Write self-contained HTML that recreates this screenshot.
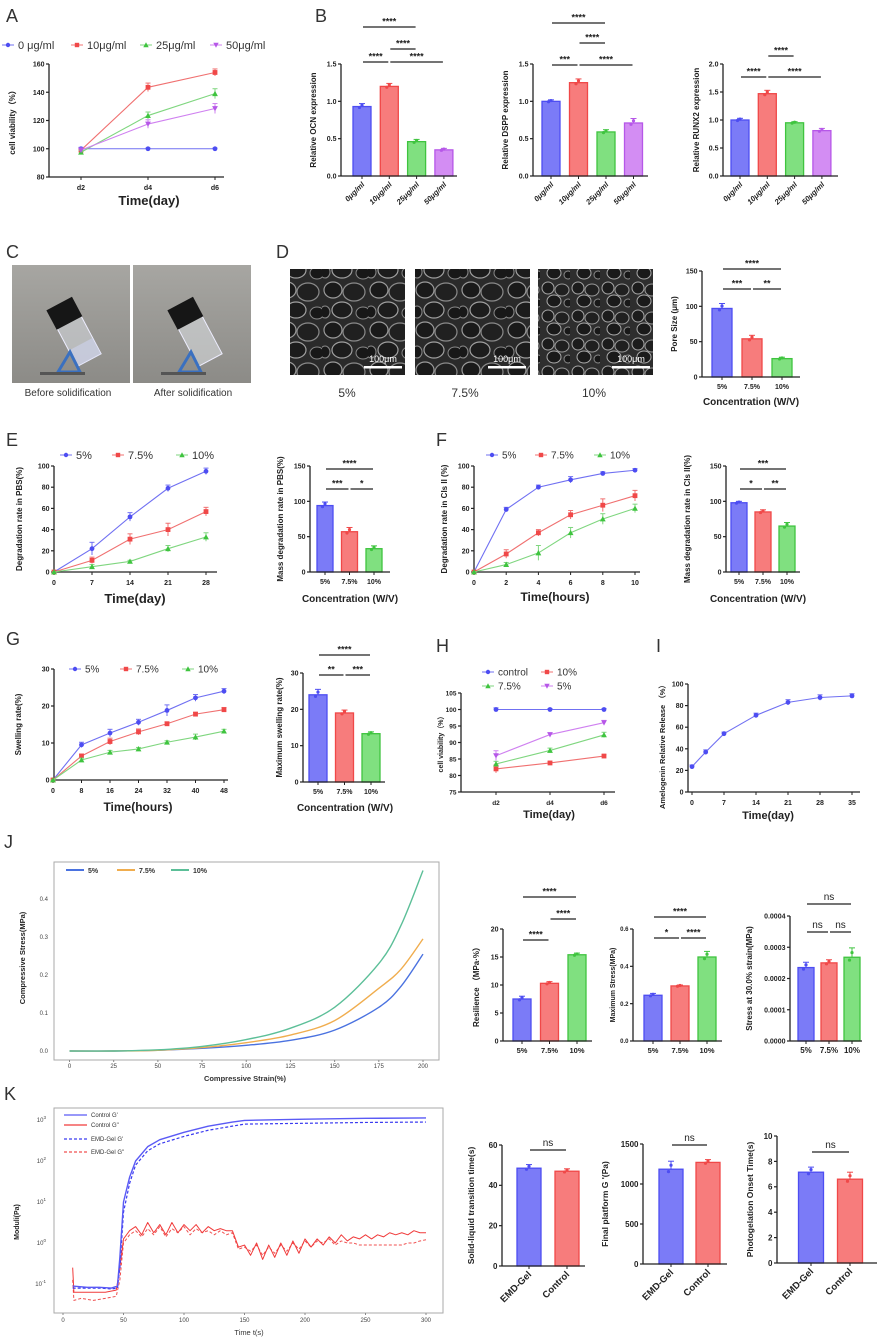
<!DOCTYPE html>
<html><head><meta charset="utf-8">
<style>
body{margin:0;background:#fff;}
svg{display:block;font-family:"Liberation Sans",sans-serif;}
</style></head>
<body>
<svg id="fig" width="879" height="1340" viewBox="0 0 879 1340">
<defs>
<pattern id="sem" width="46" height="40" patternUnits="userSpaceOnUse">
<rect width="46" height="40" fill="#2a2a2a"/>
<ellipse cx="11" cy="10" rx="9" ry="8" fill="#1a1a1a" stroke="#9a9a9a" stroke-width="1.2"/>
<ellipse cx="32" cy="12" rx="11" ry="9" fill="#202020" stroke="#8a8a8a" stroke-width="1.2"/>
<ellipse cx="20" cy="30" rx="10" ry="8" fill="#1c1c1c" stroke="#a0a0a0" stroke-width="1.2"/>
<ellipse cx="41" cy="33" rx="7" ry="6" fill="#181818" stroke="#888" stroke-width="1"/>
<ellipse cx="3" cy="32" rx="5" ry="6" fill="#181818" stroke="#888" stroke-width="1"/>
</pattern>
<pattern id="sem2" width="30" height="28" patternUnits="userSpaceOnUse">
<rect width="30" height="28" fill="#2e2e2e"/>
<ellipse cx="8" cy="8" rx="6" ry="6" fill="#1c1c1c" stroke="#a5a5a5" stroke-width="1"/>
<ellipse cx="22" cy="10" rx="7" ry="6" fill="#202020" stroke="#999" stroke-width="1"/>
<ellipse cx="14" cy="21" rx="7" ry="6" fill="#1a1a1a" stroke="#aaa" stroke-width="1"/>
<ellipse cx="28" cy="23" rx="4" ry="4" fill="#181818" stroke="#888" stroke-width="1"/>
</pattern>
<linearGradient id="photo" x1="0" y1="0" x2="0" y2="1">
<stop offset="0" stop-color="#a7a6a2"/><stop offset="1" stop-color="#8c8b87"/>
</linearGradient>
</defs>

<text x="6" y="22" font-size="18" fill="#333">A</text>
<text x="315" y="22" font-size="18" fill="#333">B</text>
<text x="6" y="258" font-size="18" fill="#333">C</text>
<text x="276" y="258" font-size="18" fill="#333">D</text>
<text x="6" y="446" font-size="18" fill="#333">E</text>
<text x="436" y="446" font-size="18" fill="#333">F</text>
<text x="6" y="645" font-size="18" fill="#333">G</text>
<text x="436" y="652" font-size="18" fill="#333">H</text>
<text x="656" y="652" font-size="18" fill="#333">I</text>
<text x="4" y="848" font-size="18" fill="#333">J</text>
<text x="4" y="1100" font-size="18" fill="#333">K</text>

<g>
<rect x="12" y="265" width="118" height="118" fill="url(#photo)"/>
<g transform="translate(70,325) rotate(-28)">
<rect x="-13" y="-4" width="27" height="44" fill="#d9dde2" fill-opacity="0.55" stroke="#eef" stroke-width="1"/>
<rect x="-13" y="22" width="27" height="18" fill="#cfd3ee" fill-opacity="0.6"/>
<rect x="-14" y="-24" width="29" height="22" fill="#161616"/>
</g>
<path d="M58 372 L70 352 L80 372 Z" fill="none" stroke="#3a70c0" stroke-width="3"/>
<rect x="40" y="372" width="45" height="3" fill="#555"/>
</g>
<g>
<rect x="133" y="265" width="118" height="118" fill="url(#photo)"/>
<g transform="translate(191,325) rotate(-28)">
<rect x="-13" y="-4" width="27" height="44" fill="#dfe2e6" fill-opacity="0.55" stroke="#eef" stroke-width="1"/>
<rect x="-14" y="-24" width="29" height="22" fill="#161616"/>
</g>
<path d="M179 372 L191 352 L201 372 Z" fill="none" stroke="#3a70c0" stroke-width="3"/>
<rect x="161" y="372" width="45" height="3" fill="#555"/>
</g>
<text x="68" y="396" font-size="10" text-anchor="middle" fill="#333">Before solidification</text>
<text x="193" y="396" font-size="10" text-anchor="middle" fill="#333">After solidification</text>

<g>
<rect x="290" y="269" width="115" height="106" fill="url(#sem)"/>
<text x="383" y="362" font-size="9" fill="#fff" text-anchor="middle">100μm</text>
<rect x="364" y="366" width="38" height="2.5" fill="#fff"/>
</g>
<g>
<rect x="415" y="269" width="115" height="106" fill="url(#sem)"/>
<text x="507" y="362" font-size="9" fill="#fff" text-anchor="middle">100μm</text>
<rect x="488" y="366" width="38" height="2.5" fill="#fff"/>
</g>
<g>
<rect x="538" y="269" width="115" height="106" fill="url(#sem2)"/>
<text x="631" y="362" font-size="9" fill="#fff" text-anchor="middle">100μm</text>
<rect x="612" y="366" width="38" height="2.5" fill="#fff"/>
</g>
<text x="347" y="397" font-size="12" text-anchor="middle" fill="#333">5%</text>
<text x="465" y="397" font-size="12" text-anchor="middle" fill="#333">7.5%</text>
<text x="594" y="397" font-size="12" text-anchor="middle" fill="#333">10%</text>
</svg>

<script>
const aCats=['d2','d4','d6'];
const a0=[100,100,100];
const a10=[99,143.5,154];
const a25=[97.5,123.5,139];
const a50=[99,117.5,128.5];
const a0e=[1,0.5,0.5];
const a10e=[1.5,3,2.5];
const a25e=[1.5,2.5,3.5];
const a50e=[1.5,3,3.5];

const bCats=['0μg/ml','10μg/ml','25μg/ml','50μg/ml'];
const ocn=[0.93,1.2,0.46,0.35];
const ocnErr=[0.04,0.04,0.03,0.02];
const dspp=[1.0,1.25,0.59,0.71];
const dsppErr=[0.02,0.05,0.03,0.06];
const runx2=[1.0,1.47,0.95,0.81];
const runx2Err=[0.03,0.06,0.02,0.04];

const concCats=['5%','7.5%','10%'];
const poreSize=[97,54,26];
const poreErr=[7,5,2];

const eDays=[0,7,14,21,28];
const e5=[0,22,52,79,95];
const e75=[0,11,31,40,57];
const e10=[0,5,10,22,33];
const eMass=[94,57,33];
const eMassErr=[5,6,4];

const fHours=[0,2,4,6,8,10];
const f5=[0,59,80,87,93,96];
const f75=[0,17,37,54,63,72];
const f10=[0,7,18,37,50,60];
const fMass=[98,85,65];
const fMassErr=[2,3,5];

const gHours=[0,8,16,24,32,40,48];
const g5=[0,9.5,12.7,15.6,18.8,22.2,24];
const g75=[0,6.5,10.4,13,15.2,17.8,19];
const g10=[0,5.4,7.5,8.4,10.2,11.6,13.2];
const gMax=[24,19,13.3];
const gMaxErr=[1.5,0.8,0.5];

const hCats=['d2','d4','d6'];
const hCtrl=[100,100,100];
const h10=[82,83.8,85.9];
const h75=[83.5,87.6,92.3];
const h5=[86,92.4,96];

const iDays=[0,3,7,14,21,28,35];
const iRel=[23.5,37,54,71,83,87.5,89];

const jStrain=[0,25,50,75,100,125,150,175,187.5,200];
const j5=[0,0,0.002,0.007,0.015,0.028,0.055,0.115,0.17,0.255];
const j75=[0,0,0.002,0.009,0.022,0.042,0.08,0.165,0.215,0.295];
const j10=[0,0,0.003,0.012,0.03,0.06,0.115,0.23,0.33,0.475];
const resil=[7.5,10.3,15.4];
const resilErr=[0.5,0.3,0.3];
const maxStress=[0.245,0.295,0.45];
const maxStressErr=[0.01,0.005,0.03];
const stress30=[0.000235,0.00025,0.000268];
const stress30Err=[0.000017,0.00001,0.00003];

const kTime1=[8,20,30,40,45,47,50,55,60,70,80,100,120,140,150,200,250,300];
const ctrlG1=[-1.05,-1.08,-1.08,-1.1,-1.05,-0.35,1.0,1.6,2.0,2.35,2.52,2.7,2.85,2.95,2.99,3.02,3.04,3.05];
const emdG1=[-1.1,-1.1,-1.1,-1.12,-1.1,-0.6,0.75,1.45,1.9,2.25,2.42,2.6,2.75,2.85,2.9,2.92,2.94,2.95];
const kTime2=[8,9,15,25,35,44,47,50,55,60,65,70,75,80,85,90,95,100,105,110,115,120,125,130,135,140,145,150,155,160,165,170,175,180,185,190,195,200,205,210,215,220,225,230,235,240,245,250,255,260,265,270,275,280,285,290,295,300];
const ctrlG2=[-0.6,-1.2,-1.2,-1.2,-1.2,-1.15,-0.6,0.1,0.3,0.4,0.2,0.5,0.25,0.45,0.2,0.5,0.25,0.45,0.3,0.45,0.25,0.4,0.3,0.35,0.3,0.3,-0.1,-0.05,-0.3,0.0,-0.4,-0.05,-0.35,0.0,-0.3,0.05,-0.25,0.1,-0.1,0.1,-0.05,0.15,0.0,0.2,0.05,0.15,0.1,0.2,0.1,0.2,0.15,0.25,0.2,0.25,0.2,0.3,0.25,0.25];
const emdG2=[-0.9,-1.4,-1.35,-1.4,-1.35,-1.3,-0.9,0.0,0.2,0.3,0.15,0.35,0.2,0.4,0.15,0.35,0.25,0.4,0.2,0.35,0.25,0.3,0.2,0.3,0.2,0.25,-0.15,-0.1,-0.2,-0.05,-0.3,-0.1,-0.25,-0.05,-0.2,0.0,-0.15,0.05,-0.1,0.05,0.0,0.1,-0.05,0.05,0.0,0.0,-0.05,-0.05,-0.05,-0.05,-0.05,-0.05,-0.05,-0.05,0.0,0.0,0.05,0.08];

const kCats=['EMD-Gel','Control'];
const solidTime=[48.5,47];
const solidErr=[1.8,1.2];
const finalG=[1185,1270];
const finalGErr=[100,35];
const photoTime=[7.15,6.6];
const photoErr=[0.4,0.55];

const NS='http://www.w3.org/2000/svg';
const svg=document.getElementById('fig');
function el(tag,attrs,name,parent,text){
  const e=document.createElementNS(NS,tag);
  for(const k in attrs) e.setAttribute(k,attrs[k]);
  
  
  if(text!==undefined) e.textContent=text;
  (parent||svg).appendChild(e);
  return e;
}
const COL={
  blue:{f:'#7b7bf7',s:'#4d4df2',l:'#7070f2'},
  red:{f:'#f77c7c',s:'#f04848',l:'#f07070'},
  green:{f:'#80e080',s:'#3fc43f',l:'#7fd67f'},
  purple:{f:'#d38df3',s:'#b657e8',l:'#cf80f0'}
};
const C3=['blue','red','green'];
const C4=['blue','red','green','purple'];

function yAxis(g,x,sy,ticks,labels,fs){
  el('line',{x1:x,y1:sy(ticks[0]),x2:x,y2:sy(ticks[ticks.length-1]),stroke:'#222','stroke-width':1.3},'y-axis-line',g);
  ticks.forEach((t,i)=>{
    el('line',{x1:x-3,y1:sy(t),x2:x,y2:sy(t),stroke:'#222','stroke-width':1.2},'y-tick',g);
    el('text',{x:x-4.5,y:sy(t)+fs*0.36,'text-anchor':'end','font-size':fs,'font-weight':'bold',fill:'#222'},'y-tick-label',g,labels[i]);
  });
}
function vlabel(g,x,y,txt,fs,name){
  el('text',{x:0,y:0,transform:`translate(${x},${y}) rotate(-90)`,'text-anchor':'middle','font-size':fs,'font-weight':'bold',fill:'#222'},name,g,txt);
}

function barChart(c){
  const g=el('g',{},c.name);
  const lo=c.ticks[0], hi=c.ticks[c.ticks.length-1];
  const sy=v=>c.y0-(v-lo)/(hi-lo)*(c.y0-c.yTop);
  const sx=i=>c.first+i*c.step;
  c.values.forEach((v,i)=>{
    const col=COL[c.colors[i]]; const x=sx(i); const e=c.errs[i];
    el('rect',{x:x-c.w/2,y:sy(v),width:c.w,height:c.y0-sy(v),fill:col.f,stroke:col.s,'stroke-width':1.3},'bar-'+c.cats[i],g);
    el('line',{x1:x,y1:sy(v+e),x2:x,y2:sy(v),stroke:col.s,'stroke-width':1},'error-bar',g);
    el('line',{x1:x-3,y1:sy(v+e),x2:x+3,y2:sy(v+e),stroke:col.s,'stroke-width':1},'error-cap',g);
    el('circle',{cx:x,cy:sy(v+e*0.5),r:1.6,fill:col.s},'data-point',g);
    el('circle',{cx:x-2.5,cy:sy(v-e*0.3),r:1.6,fill:col.s},'data-point',g);
  });
  yAxis(g,c.x0,sy,c.ticks,c.tickLabels,c.fs||7);
  el('line',{x1:c.x0,y1:c.y0,x2:c.xEnd,y2:c.y0,stroke:'#222','stroke-width':1.3},'x-axis-line',g);
  c.values.forEach((v,i)=>{
    const x=sx(i);
    el('line',{x1:x,y1:c.y0,x2:x,y2:c.y0+3,stroke:'#222'},'x-tick',g);
    if(c.rot){
      el('text',{x:0,y:0,transform:`translate(${x+3},${c.y0+9}) rotate(-45)`,'text-anchor':'end','font-size':c.catFs||8,'font-weight':'bold','font-style':c.italic?'italic':'normal',fill:'#222'},'x-tick-label',g,c.cats[i]);
    } else {
      el('text',{x:x,y:c.y0+12,'text-anchor':'middle','font-size':c.catFs||7,'font-weight':'bold',fill:'#222'},'x-tick-label',g,c.cats[i]);
    }
  });
  vlabel(g,c.ylx,(c.y0+c.yTop)/2,c.ylabel,c.ylFs||8,'y-axis-title');
  if(c.xlabel) el('text',{x:c.xlx,y:c.xly,'text-anchor':'middle','font-size':10,'font-weight':'bold',fill:'#222','font-family':'"Liberation Sans Narrow","Liberation Sans",sans-serif'},'x-axis-title',g,c.xlabel);
  c.brackets.forEach(b=>{
    const x1=sx(b[0])+1, x2=sx(b[1])-1;
    el('line',{x1:x1,y1:b[2],x2:x2,y2:b[2],stroke:'#222','stroke-width':1.3},'significance-bracket',g);
    el('text',{x:(x1+x2)/2,y:b[2]-(b[3]==='ns'?4:2.5),'text-anchor':'middle','font-size':b[3]==='ns'?10:9,'font-weight':b[3]==='ns'?'normal':'bold',fill:'#222'},'significance-label',g,b[3]);
  });
  return g;
}

function marker(g,type,x,y,col,r){
  r=r||2.4;
  if(type==='circle') el('circle',{cx:x,cy:y,r:r,fill:col},'marker',g);
  else if(type==='square') el('rect',{x:x-r,y:y-r,width:2*r,height:2*r,fill:col},'marker',g);
  else if(type==='up') el('path',{d:`M${x} ${y-r-0.5} L${x+r+0.5} ${y+r} L${x-r-0.5} ${y+r} Z`,fill:col},'marker',g);
  else el('path',{d:`M${x} ${y+r+0.5} L${x+r+0.5} ${y-r} L${x-r-0.5} ${y-r} Z`,fill:col},'marker',g);
}

function lineChart(c){
  const g=el('g',{},c.name);
  const lo=c.vticks[0], hi=c.vticks[c.vticks.length-1];
  const sy=v=>c.y0-(v-lo)/(hi-lo)*(c.y0-c.yTop);
  const sx=v=>c.xm[2]+(v-c.xm[0])/(c.xm[1]-c.xm[0])*(c.xm[3]-c.xm[2]);
  yAxis(g,c.ax0,sy,c.vticks,c.vlabels,c.fs||7);
  el('line',{x1:c.ax0,y1:c.y0,x2:c.ax1,y2:c.y0,stroke:'#222','stroke-width':1.3},'x-axis-line',g);
  c.xticks.forEach((t,i)=>{
    el('line',{x1:sx(t),y1:c.y0,x2:sx(t),y2:c.y0+3,stroke:'#222'},'x-tick',g);
    el('text',{x:sx(t),y:c.y0+13,'text-anchor':'middle','font-size':c.fs||7,'font-weight':'bold',fill:'#222'},'x-tick-label',g,c.xlabels[i]);
  });
  c.series.forEach(s=>{
    const col=COL[s.color].l;
    const pts=s.x.map((xv,i)=>sx(xv)+','+sy(s.y[i])).join(' ');
    el('polyline',{points:pts,fill:'none',stroke:col,'stroke-width':1.1},'series-line-'+s.name,g);
    s.x.forEach((xv,i)=>{
      if(s.err){
        const e=s.err[i];
        el('line',{x1:sx(xv),y1:sy(s.y[i]-e),x2:sx(xv),y2:sy(s.y[i]+e),stroke:col},'error-bar',g);
        el('line',{x1:sx(xv)-2.5,y1:sy(s.y[i]+e),x2:sx(xv)+2.5,y2:sy(s.y[i]+e),stroke:col},'error-cap',g);
      }
      marker(g,s.marker,sx(xv),sy(s.y[i]),COL[s.color].s);
    });
  });
  vlabel(g,c.ylx,c.yly||(c.y0+c.yTop)/2,c.ylabel,c.ylFs||8,'y-axis-title');
  el('text',{x:c.xlx,y:c.xly,'text-anchor':'middle','font-size':c.xlFs||12,'font-weight':'bold',fill:'#222','font-family':'"Liberation Sans Narrow","Liberation Sans",sans-serif'},'x-axis-title',g,c.xlabel);
  return g;
}

function legend(entries,fs){
  const g=el('g',{},'legend');
  entries.forEach(e=>{
    const col=COL[e.color];
    el('line',{x1:e.x-6,y1:e.y,x2:e.x+6,y2:e.y,stroke:col.l,'stroke-width':1},'legend-line',g);
    marker(g,e.marker,e.x,e.y,col.s,2.2);
    el('text',{x:e.x+10,y:e.y+fs*0.36,'font-size':fs,fill:'#333','font-family':'"Liberation Sans Narrow","Liberation Sans",sans-serif'},'legend-entry',g,e.label);
  });
}

const idx3=[0,1,2];

legend([
  {x:8,y:45,color:'blue',marker:'circle',label:'0 μg/ml'},
  {x:77,y:45,color:'red',marker:'square',label:'10μg/ml'},
  {x:146,y:45,color:'green',marker:'up',label:'25μg/ml'},
  {x:216,y:45,color:'purple',marker:'down',label:'50μg/ml'}],11);
lineChart({name:'chart-a-cell-viability',ax0:49,ax1:224,y0:177,yTop:64,vticks:[80,100,120,140,160],vlabels:['80','100','120','140','160'],
  xm:[0,2,81,215],xticks:idx3,xlabels:aCats,
  series:[{name:'0',x:idx3,y:a0,err:a0e,color:'blue',marker:'circle'},
          {name:'10',x:idx3,y:a10,err:a10e,color:'red',marker:'square'},
          {name:'25',x:idx3,y:a25,err:a25e,color:'green',marker:'up'},
          {name:'50',x:idx3,y:a50,err:a50e,color:'purple',marker:'down'}],
  ylx:15,ylabel:'cell viability（%）',xlx:149,xly:205,xlabel:'Time(day)',xlFs:13});

const bT=[0,0.5,1,1.5], bTL=['0.0','0.5','1.0','1.5'];
barChart({name:'chart-b-ocn',x0:341,xEnd:457,y0:176,yTop:64,ticks:bT,tickLabels:bTL,first:362,step:27.3,w:18,values:ocn,errs:ocnErr,colors:C4,cats:bCats,rot:true,italic:true,catFs:7.5,
  ylx:316,ylabel:'Relative OCN expression',
  brackets:[[0,1,62,'****'],[1,3,62,'****'],[1,2,49,'****'],[0,2,27,'****']]});
barChart({name:'chart-b-dspp',x0:533,xEnd:648,y0:176,yTop:64,ticks:bT,tickLabels:bTL,first:551,step:27.5,w:18,values:dspp,errs:dsppErr,colors:C4,cats:bCats,rot:true,italic:true,catFs:7.5,
  ylx:508,ylabel:'Relative DSPP expression',
  brackets:[[0,1,65,'***'],[1,3,65,'****'],[1,2,43,'****'],[0,2,23,'****']]});
barChart({name:'chart-b-runx2',x0:723,xEnd:838,y0:176,yTop:64,ticks:[0,0.5,1,1.5,2],tickLabels:['0.0','0.5','1.0','1.5','2.0'],first:740,step:27.3,w:18,values:runx2,errs:runx2Err,colors:C4,cats:bCats,rot:true,italic:true,catFs:7.5,
  ylx:699,ylabel:'Relative RUNX2 expression',
  brackets:[[0,1,77,'****'],[1,3,77,'****'],[1,2,56,'****']]});

barChart({name:'chart-d-pore-size',x0:702,xEnd:800,y0:377,yTop:271,ticks:[0,50,100,150],tickLabels:['0','50','100','150'],first:722,step:30,w:20,values:poreSize,errs:poreErr,colors:C3,cats:concCats,
  ylx:677,ylabel:'Pore Size (μm)',xlx:751,xly:405,xlabel:'Concentration (W/V)',
  brackets:[[0,2,269,'****'],[0,1,289,'***'],[1,2,289,'**']]});

legend([{x:66,y:455,color:'blue',marker:'circle',label:'5%'},{x:118,y:455,color:'red',marker:'square',label:'7.5%'},{x:182,y:455,color:'green',marker:'up',label:'10%'}],11);
lineChart({name:'chart-e-degradation-pbs',ax0:54,ax1:217,y0:572,yTop:466,vticks:[0,20,40,60,80,100],vlabels:['0','20','40','60','80','100'],
  xm:[0,28,54,206],xticks:eDays,xlabels:eDays.map(String),
  series:[{name:'5',x:eDays,y:e5,err:[0,6,4,3,3],color:'blue',marker:'circle'},
          {name:'7.5',x:eDays,y:e75,err:[0,3,5,6,4],color:'red',marker:'square'},
          {name:'10',x:eDays,y:e10,err:[0,2,1,3,4],color:'green',marker:'up'}],
  ylx:22,ylabel:'Degradation rate in PBS(%)',xlx:135,xly:603,xlabel:'Time(day)',xlFs:13});
barChart({name:'chart-e-mass-degradation',x0:310,xEnd:390,y0:572,yTop:466,ticks:[0,50,100,150],tickLabels:['0','50','100','150'],first:325,step:24.5,w:16,values:eMass,errs:eMassErr,colors:C3,cats:concCats,
  ylx:283,ylabel:'Mass degradation rate in PBS(%)',xlx:350,xly:602,xlabel:'Concentration (W/V)',
  brackets:[[0,2,469,'****'],[0,1,489,'***'],[1,2,489,'*']]});

legend([{x:492,y:455,color:'blue',marker:'circle',label:'5%'},{x:541,y:455,color:'red',marker:'square',label:'7.5%'},{x:600,y:455,color:'green',marker:'up',label:'10%'}],10);
lineChart({name:'chart-f-degradation-cis',ax0:474,ax1:640,y0:572,yTop:466,vticks:[0,20,40,60,80,100],vlabels:['0','20','40','60','80','100'],
  xm:[0,10,474,635],xticks:fHours,xlabels:fHours.map(String),
  series:[{name:'5',x:fHours,y:f5,err:[0,2,2,3,1.5,1.5],color:'blue',marker:'circle'},
          {name:'7.5',x:fHours,y:f75,err:[0,4,3,4,6,5],color:'red',marker:'square'},
          {name:'10',x:fHours,y:f10,err:[0,2,7,5,5,4],color:'green',marker:'up'}],
  ylx:447,ylabel:'Degradation rate in CIs II (%)',xlx:555,xly:601,xlabel:'Time(hours)',xlFs:12});
barChart({name:'chart-f-mass-degradation',x0:726,xEnd:800,y0:572,yTop:466,ticks:[0,50,100,150],tickLabels:['0','50','100','150'],first:739,step:24,w:16,values:fMass,errs:fMassErr,colors:C3,cats:concCats,
  ylx:690,ylabel:'Mass degradation rate in CIs II(%)',xlx:758,xly:602,xlabel:'Concentration (W/V)',
  brackets:[[0,2,469,'***'],[0,1,489,'*'],[1,2,489,'**']]});

legend([{x:75,y:669,color:'blue',marker:'circle',label:'5%'},{x:126,y:669,color:'red',marker:'square',label:'7.5%'},{x:188,y:669,color:'green',marker:'up',label:'10%'}],10);
lineChart({name:'chart-g-swelling',ax0:54,ax1:228,y0:780,yTop:669,vticks:[0,10,20,30],vlabels:['0','10','20','30'],
  xm:[0,48,53,224],xticks:gHours,xlabels:gHours.map(String),
  series:[{name:'5',x:gHours,y:g5,err:[0,0.7,1,0.8,1.5,0.9,0.7],color:'blue',marker:'circle'},
          {name:'7.5',x:gHours,y:g75,err:[0,0.5,0.9,0.8,0.5,0.5,0.6],color:'red',marker:'square'},
          {name:'10',x:gHours,y:g10,err:[0,0.5,0.5,0.4,0.4,0.8,0.5],color:'green',marker:'up'}],
  ylx:21,ylabel:'Swelling rate(%)',xlx:138,xly:811,xlabel:'Time(hours)',xlFs:12});
barChart({name:'chart-g-max-swelling',x0:303,xEnd:385,y0:782,yTop:673,ticks:[0,10,20,30],tickLabels:['0','10','20','30'],first:318,step:26.5,w:18,values:gMax,errs:gMaxErr,colors:C3,cats:concCats,
  ylx:282,ylabel:'Maximum swelling rate(%)',xlx:345,xly:811,xlabel:'Concentration (W/V)',
  brackets:[[0,2,655,'****'],[0,1,675,'**'],[1,2,675,'***']]});

legend([{x:488,y:672,color:'blue',marker:'circle',label:'control'},{x:547,y:672,color:'red',marker:'square',label:'10%'},
        {x:488,y:686,color:'green',marker:'up',label:'7.5%'},{x:547,y:686,color:'purple',marker:'down',label:'5%'}],10);
lineChart({name:'chart-h-cell-viability',ax0:461,ax1:615,y0:792,yTop:693,vticks:[75,80,85,90,95,100,105],vlabels:['75','80','85','90','95','100','105'],
  xm:[0,2,496,604],xticks:idx3,xlabels:hCats,fs:6.5,
  series:[{name:'control',x:idx3,y:hCtrl,err:[0.5,0.3,0.3],color:'blue',marker:'circle'},
          {name:'10',x:idx3,y:h10,err:[1.2,0.4,0.4],color:'red',marker:'square'},
          {name:'7.5',x:idx3,y:h75,err:[0.8,0.7,0.8],color:'green',marker:'up'},
          {name:'5',x:idx3,y:h5,err:[1.5,0.5,0.7],color:'purple',marker:'down'}],
  ylx:443,ylabel:'cell viability（%）',ylFs:7,xlx:549,xly:818,xlabel:'Time(day)',xlFs:11});

lineChart({name:'chart-i-amelogenin-release',ax0:688,ax1:860,y0:792,yTop:684,vticks:[0,20,40,60,80,100],vlabels:['0','20','40','60','80','100'],
  xm:[0,35,692,852],xticks:[0,7,14,21,28,35],xlabels:['0','7','14','21','28','35'],
  series:[{name:'release',x:iDays,y:iRel,err:[1.5,2,1.5,2,2.5,2.5,2],color:'blue',marker:'circle'}],
  ylx:665,yly:745,ylabel:'Amelogenin Relative Release （%）',ylFs:7.5,xlx:768,xly:819,xlabel:'Time(day)',xlFs:11});

function smoothPath(pts){
  let d='M'+pts[0][0]+' '+pts[0][1];
  for(let i=0;i<pts.length-1;i++){
    const p0=pts[i-1]||pts[i], p1=pts[i], p2=pts[i+1], p3=pts[i+2]||p2;
    const c1x=p1[0]+(p2[0]-p0[0])/6, c1y=p1[1]+(p2[1]-p0[1])/6;
    const c2x=p2[0]-(p3[0]-p1[0])/6, c2y=p2[1]-(p3[1]-p1[1])/6;
    d+=` C${c1x} ${c1y} ${c2x} ${c2y} ${p2[0]} ${p2[1]}`;
  }
  return d;
}

(function(){
  const g=el('g',{},'chart-j-stress-strain');
  const X0=54,X1=439,Y0=862,Y1=1060;
  el('rect',{x:X0,y:Y0,width:X1-X0,height:Y1-Y0,fill:'none',stroke:'#aaa','stroke-width':1},'plot-frame',g);
  const sx=v=>69.5+v*(423-69.5)/200;
  const sy=v=>1051-v*380;
  [0,0.1,0.2,0.3,0.4].forEach(t=>{
    el('text',{x:48,y:sy(t)+2,'text-anchor':'end','font-size':6,fill:'#444'},'y-tick-label',g,t.toFixed(1));
  });
  [0,25,50,75,100,125,150,175,200].forEach(t=>{
    el('line',{x1:sx(t),y1:Y1,x2:sx(t),y2:Y1+2,stroke:'#888'},'x-tick',g);
    el('text',{x:sx(t),y:1068,'text-anchor':'middle','font-size':6,fill:'#444'},'x-tick-label',g,String(t));
  });
  const ser=[[j5,'#4a72e0','5%'],[j75,'#f0ad4e','7.5%'],[j10,'#5cbf98','10%']];
  ser.forEach(s=>{
    const pts=jStrain.map((x,i)=>[sx(x),sy(s[0][i])]);
    el('path',{d:smoothPath(pts),fill:'none',stroke:s[1],'stroke-width':1.4,'stroke-linejoin':'round'},'series-line-'+s[2],g);
  });
  const lx=[66,117,171];
  ser.forEach((s,i)=>{
    el('line',{x1:lx[i],y1:870,x2:lx[i]+18,y2:870,stroke:s[1],'stroke-width':2},'legend-line',g);
    el('text',{x:lx[i]+22,y:873,'font-size':7,'font-weight':'bold',fill:'#333'},'legend-entry',g,s[2]);
  });
  vlabel(g,25,958,'Compressive Stress(MPa)',7.5,'y-axis-title');
  el('text',{x:245,y:1081,'text-anchor':'middle','font-size':7.5,'font-weight':'bold',fill:'#333'},'x-axis-title',g,'Compressive Strain(%)');
})();

barChart({name:'chart-j-resilience',x0:503,xEnd:592,y0:1041,yTop:929,ticks:[0,5,10,15,20],tickLabels:['0','5','10','15','20'],first:522,step:27.5,w:18,values:resil,errs:resilErr,colors:C3,cats:concCats,catFs:7.5,
  ylx:479,ylabel:'Resilience （MPa·%）',
  brackets:[[0,2,897,'****'],[1,2,919,'****'],[0,1,940,'****']]});
barChart({name:'chart-j-max-stress',x0:633,xEnd:722,y0:1041,yTop:929,ticks:[0,0.2,0.4,0.6],tickLabels:['0.0','0.2','0.4','0.6'],first:653,step:27,w:18,values:maxStress,errs:maxStressErr,colors:C3,cats:concCats,fs:6,catFs:7.5,
  ylx:615,ylabel:'Maximum Stress(MPa)',ylFs:7,
  brackets:[[0,2,917,'****'],[0,1,938,'*'],[1,2,938,'****']]});
barChart({name:'chart-j-stress-30',x0:790,xEnd:862,y0:1041,yTop:916,ticks:[0,0.0001,0.0002,0.0003,0.0004],tickLabels:['0.0000','0.0001','0.0002','0.0003','0.0004'],first:806,step:23,w:16,values:stress30,errs:stress30Err,colors:C3,cats:concCats,catFs:8,
  ylx:752,ylabel:'Stress at 30.0% strain(MPa)',
  brackets:[[0,2,904,'ns'],[0,1,932,'ns'],[1,2,932,'ns']]});

(function(){
  const g=el('g',{},'chart-k-rheology');
  const X0=54,X1=443,Y0=1108,Y1=1313;
  el('rect',{x:X0,y:Y0,width:X1-X0,height:Y1-Y0,fill:'none',stroke:'#aaa','stroke-width':1},'plot-frame',g);
  const sx=t=>63+t*1.21;
  const sy=l=>1284-(l+1)*41;
  [[-1,'-1'],[0,'0'],[1,'1'],[2,'2'],[3,'3']].forEach(d=>{
    const t=el('text',{x:46,y:sy(d[0])+2,'text-anchor':'end','font-size':6,fill:'#444'},'y-tick-label',g,'10');
    const s=document.createElementNS(NS,'tspan');
    s.setAttribute('dy','-3');s.setAttribute('font-size','4.5');s.textContent=d[1];t.appendChild(s);
  });
  [0,50,100,150,200,250,300].forEach(t=>{
    el('line',{x1:sx(t),y1:Y1,x2:sx(t),y2:Y1+2,stroke:'#888'},'x-tick',g);
    el('text',{x:sx(t),y:1322,'text-anchor':'middle','font-size':6,fill:'#444'},'x-tick-label',g,String(t));
  });
  const line=(ts,vs,col,dash,name,w)=>{
    const pts=ts.map((t,i)=>sx(t)+','+sy(vs[i])).join(' ');
    el('polyline',{points:pts,fill:'none',stroke:col,'stroke-width':w,'stroke-dasharray':dash?'3,2':'none','stroke-linejoin':'round'},name,g);
  };
  line(kTime2,emdG2,'#f05050',true,'series-emd-g-double-prime',1);
  line(kTime2,ctrlG2,'#f03a3a',false,'series-control-g-double-prime',1);
  line(kTime1,emdG1,'#3a3af0',true,'series-emd-g-prime',1.2);
  line(kTime1,ctrlG1,'#5a5af5',false,'series-control-g-prime',1.4);
  const leg=[["Control G'",'#5a5af5',false],['Control G"','#f03a3a',false],["EMD-Gel G'",'#3a3af0',true],['EMD-Gel G"','#f05050',true]];
  const ly=[1115,1125,1139,1152];
  leg.forEach((l,i)=>{
    el('line',{x1:64,y1:ly[i],x2:87,y2:ly[i],stroke:l[1],'stroke-width':1.3,'stroke-dasharray':l[2]?'3,2':'none'},'legend-line',g);
    el('text',{x:91,y:ly[i]+2,'font-size':6,fill:'#333','font-family':'"Liberation Sans Narrow","Liberation Sans",sans-serif'},'legend-entry',g,l[0]);
  });
  vlabel(g,19,1222,'Moduli(Pa)',7,'y-axis-title');
  el('text',{x:249,y:1335,'text-anchor':'middle','font-size':7.5,fill:'#333','font-family':'"Liberation Sans Narrow","Liberation Sans",sans-serif'},'x-axis-title',g,'Time t(s)');
})();

barChart({name:'chart-k-solid-liquid-time',x0:502,xEnd:585,y0:1266,yTop:1145,ticks:[0,20,40,60],tickLabels:['0','20','40','60'],first:529,step:38,w:24,values:solidTime,errs:solidErr,colors:['blue','red'],cats:kCats,rot:true,catFs:9.5,fs:8,
  ylx:474,ylabel:'Solid-liquid transition time(s)',ylFs:8.5,
  brackets:[[0,1,1150,'ns']]});
barChart({name:'chart-k-final-platform-g',x0:643,xEnd:727,y0:1264,yTop:1144,ticks:[0,500,1000,1500],tickLabels:['0','500','1000','1500'],first:671,step:37,w:24,values:finalG,errs:finalGErr,colors:['blue','red'],cats:kCats,rot:true,catFs:9.5,fs:8,
  ylx:608,ylabel:"Final platform G '(Pa)",ylFs:8.5,
  brackets:[[0,1,1145,'ns']]});
barChart({name:'chart-k-photogelation-onset',x0:777,xEnd:877,y0:1263,yTop:1136,ticks:[0,2,4,6,8,10],tickLabels:['0','2','4','6','8','10'],first:811,step:39,w:25,values:photoTime,errs:photoErr,colors:['blue','red'],cats:kCats,rot:true,catFs:9.5,fs:8,
  ylx:753,ylabel:'Photogelation Onset Time(s)',ylFs:8.5,
  brackets:[[0,1,1152,'ns']]});
</script>
</body></html>
